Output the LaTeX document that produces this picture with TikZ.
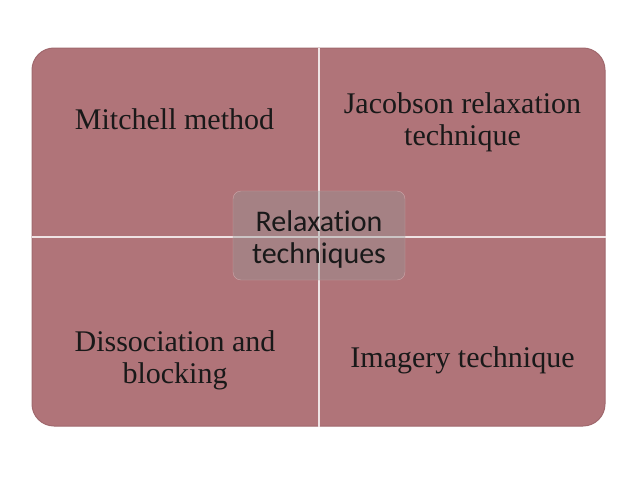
\documentclass[tikz,border=0pt]{standalone}
\usepackage{fontspec}
\setmainfont{Liberation Serif}
\newfontfamily\hubfont[Ligatures={NoCommon,NoRequired}]{Carlito}
\usetikzlibrary{positioning}
\definecolor{quad}{RGB}{176,116,121}
\definecolor{quadedge}{RGB}{160,104,109}
\definecolor{hubgray}{RGB}{150,150,150}

\begin{document}
\begin{tikzpicture}[
  x=1pt, y=-1pt,
  every node/.style={font=\fontsize{30}{32}\selectfont, inner sep=0pt, text=black!90},
  panel/.style={
    draw=quadedge, line width=1pt, fill=quad, rounded corners=22pt,
    minimum width=573pt, minimum height=378pt,
  },
  divider/.style={white!80!quad, line width=2pt},
  item/.style={align=center},
  hubbox/.style={
    draw=white!35!quad, fill=hubgray, fill opacity=0.4,
    rounded corners=8pt, minimum width=172pt, minimum height=89pt,
  },
  hubtext/.style={align=center, font=\hubfont\fontsize{30}{32}\selectfont},
]
  \useasboundingbox (0,0) rectangle (638,479);

  % Four quadrants: one rounded panel split by two light lines
  \node[panel] (panel) at (318.5,237) {};
  \draw[divider] (panel.north) -- (panel.south);
  \draw[divider] (panel.west) -- (panel.east);

  % Quadrant texts
  \node[item, anchor=base] (mitchell) at (174.5,129) {Mitchell method};
  \node[item] (jacobson) at (462.5,122) {Jacobson relaxation\\technique};
  \node[item] (dissoc) at (175,360) {Dissociation and\\blocking};
  \node[item, anchor=base] (imagery) at (462.5,367) {Imagery technique};

  % Centre box over the crossing
  \node[hubbox] (hub) at (319,235.5) {};
  \node[hubtext] (hublabel) at ([yshift=-4pt]hub.center) {Relaxation\\techniques};
\end{tikzpicture}
\end{document}
